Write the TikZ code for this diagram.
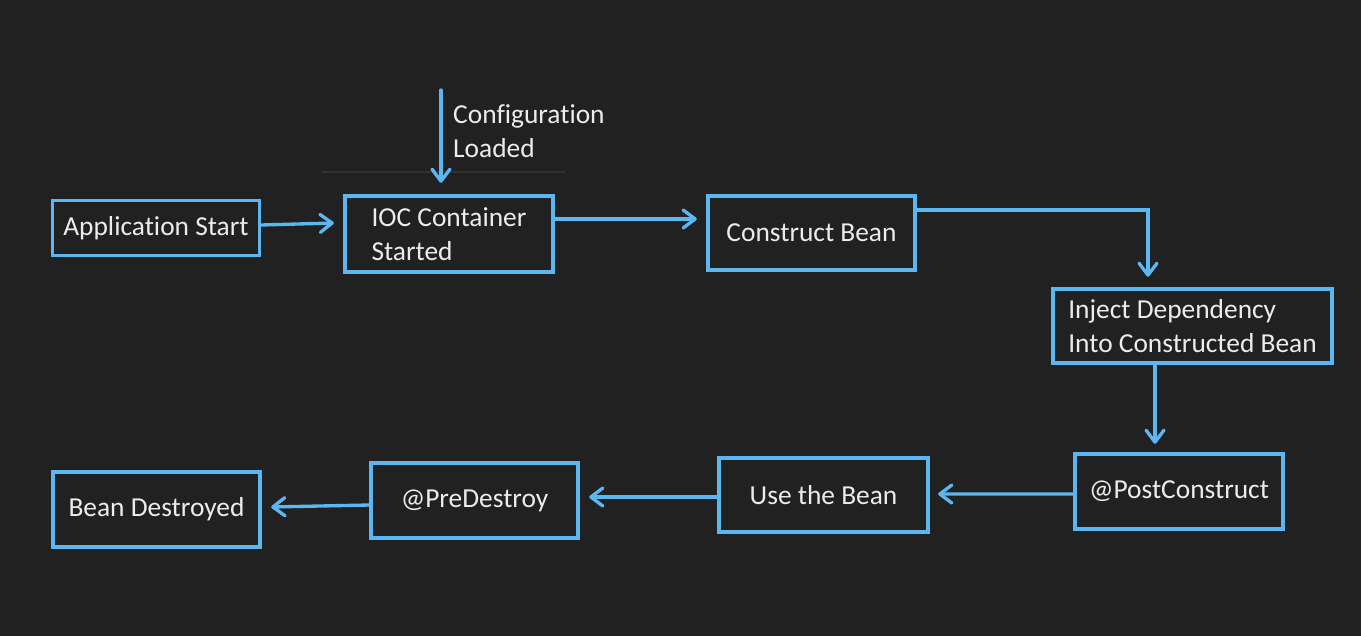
\documentclass[tikz,border=0pt]{standalone}
\usepackage{fontspec}
\setmainfont{Carlito}[Ligatures=NoCommon]
\usetikzlibrary{arrows.meta}
\definecolor{bg}{HTML}{212121}
\definecolor{bblue}{HTML}{5CB6F2}
\definecolor{txt}{HTML}{ECECEC}
\begin{document}
\begin{tikzpicture}[x=0.02cm, y=-0.02cm]
	\tikzset{box/.style={draw=bblue, line width=2.5pt, text=txt, align=left,
			font=\fontsize{15.6}{19}\selectfont, inner sep=0pt},
		flow lines/.style={bblue, line width=1.9pt, line cap=round,
				-{Straight Barb[length=2.4mm, width=3.6mm, round]}}}
	\fill[bg] (0, 0) rectangle (1361, 636);
	\useasboundingbox (0, 0) rectangle (1361, 636);
	% \draw (0, 0) grid (1361, 636);

	\node[box, line width=2pt, minimum width=4.14cm, minimum height=1.1cm] (app) at (156, 228) {Application Start};
	\node[box, minimum width=4.16cm, minimum height=1.52cm] (ioc) at (449, 234) {IOC Container\\Started};
	\node[box, minimum width=4.14cm, minimum height=1.48cm] (construct) at (811.5, 233) {Construct Bean};
	\node[box, minimum width=5.58cm, minimum height=1.48cm] (inject) at (1192.5, 326) {Inject Dependency\\Into Constructed Bean};
	\node[box, minimum width=4.16cm, minimum height=1.5cm] (post) at (1179, 491.5) {@PostConstruct};
	\node[box, minimum width=4.18cm, minimum height=1.48cm] (use) at (823.5, 495) {Use the Bean};
	\node[box, minimum width=4.14cm, minimum height=1.5cm] (pre) at (474.5, 500.5) {@PreDestroy};
	\node[box, minimum width=4.14cm, minimum height=1.5cm] (destroyed) at (156.5, 509.5) {Bean Destroyed};

	\coordinate (cfg) at (441, 90);
	\node[text=txt, align=left, font=\fontsize{15.6}{19}\selectfont, anchor=west] (cfglabel) at (447, 131) {Configuration\\Loaded};
	\draw[white!7!bg, line width=0.6pt] (322, 172) -- (565, 172);

	\draw[flow lines] (cfg) -- ([shift={(-8, -11)}]ioc.north);
	\draw[flow lines] ([shift={(0, -3)}]app.east) -- ([shift={(-9, -11)}]ioc.west);
	\draw[flow lines] ([shift={(0, -15)}]ioc.east) -- ([shift={(-9, -14)}]construct.west);
	\draw[flow lines] ([shift={(0, -23)}]construct.east) -| ([shift={(-44.5, -10)}]inject.north);
	\draw[flow lines] ([shift={(-37.5, 0)}]inject.south) -- ([shift={(-24, -8)}]post.north);
	\draw[flow lines] ([shift={(0, 2.5)}]post.west) -- ([shift={(8, -1)}]use.east);
	\draw[flow lines] ([shift={(0, 2)}]use.west) -- ([shift={(9, -3.5)}]pre.east);
	\draw[flow lines] ([shift={(0, 4.5)}]pre.west) -- ([shift={(9, -2.5)}]destroyed.east);
\end{tikzpicture}
\end{document}
